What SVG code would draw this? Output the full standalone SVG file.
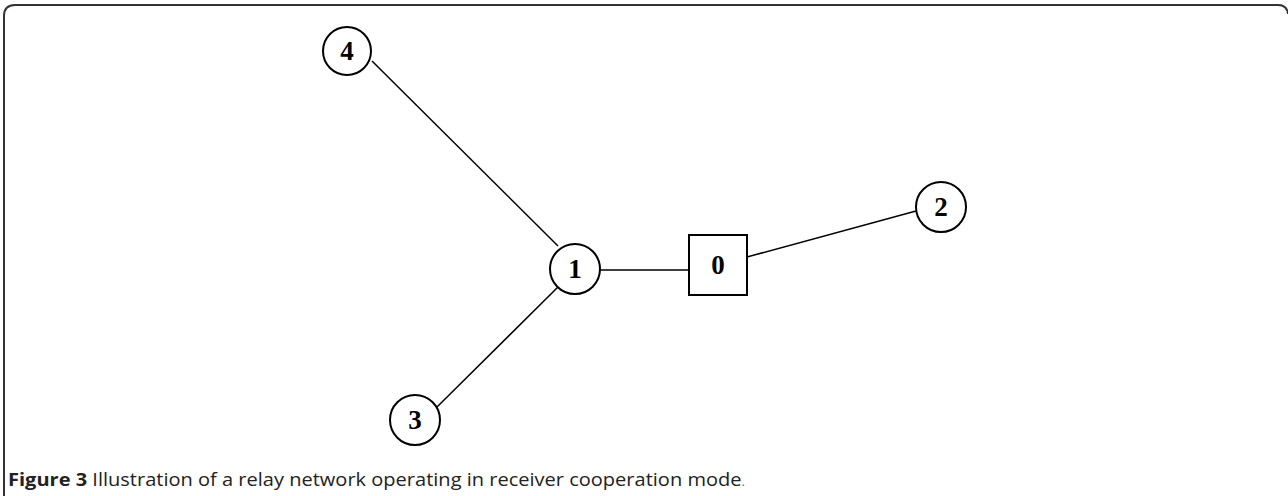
<svg xmlns="http://www.w3.org/2000/svg" width="1288" height="496" viewBox="0 0 1288 496">
<style>
.frame{fill:none;stroke:#333;stroke-width:2}
.node circle{fill:#fff;stroke:#000;stroke-width:2}
.node rect{fill:#fff;stroke:#000;stroke-width:2}
.lbl{font-family:"Liberation Serif",serif;font-weight:bold;font-size:27px;text-anchor:middle;fill:#000}
.edge{stroke:#000;stroke-width:1.5;fill:none}
.cap{font-family:"Open Sans",sans-serif;font-size:18px;fill:#222}
</style>
<rect width="1288" height="496" fill="#fff"/>
<path class="frame" d="M4,496 V16 Q4,5 15,5 H1278 Q1287,5 1288,14"/>
<g id="connectors">
<line class="edge" x1="372" y1="61" x2="558" y2="246"/>
<line class="edge" x1="437" y1="407" x2="558" y2="287"/>
<line class="edge" x1="600" y1="270" x2="689" y2="270" stroke-width="2"/>
<line class="edge" x1="747" y1="257" x2="916" y2="211"/>
</g>
<g id="node4" class="node"><circle cx="347" cy="51" r="24"/><text class="lbl" x="347" y="60">4</text></g>
<g id="node1" class="node"><circle cx="575" cy="269" r="25"/><text class="lbl" x="575" y="278">1</text></g>
<g id="node0" class="node"><rect x="689" y="235" width="58" height="60"/><text class="lbl" x="718" y="274">0</text></g>
<g id="node2" class="node"><circle cx="941" cy="207" r="25"/><text class="lbl" x="941" y="216">2</text></g>
<g id="node3" class="node"><circle cx="415" cy="420" r="25"/><text class="lbl" x="415" y="429">3</text></g>
<text class="cap" x="8" y="486" textLength="737" lengthAdjust="spacingAndGlyphs"><tspan font-weight="bold">Figure 3</tspan> Illustration of a relay network operating in receiver cooperation mode<tspan font-size="12" fill="#666">.</tspan></text>
</svg>
